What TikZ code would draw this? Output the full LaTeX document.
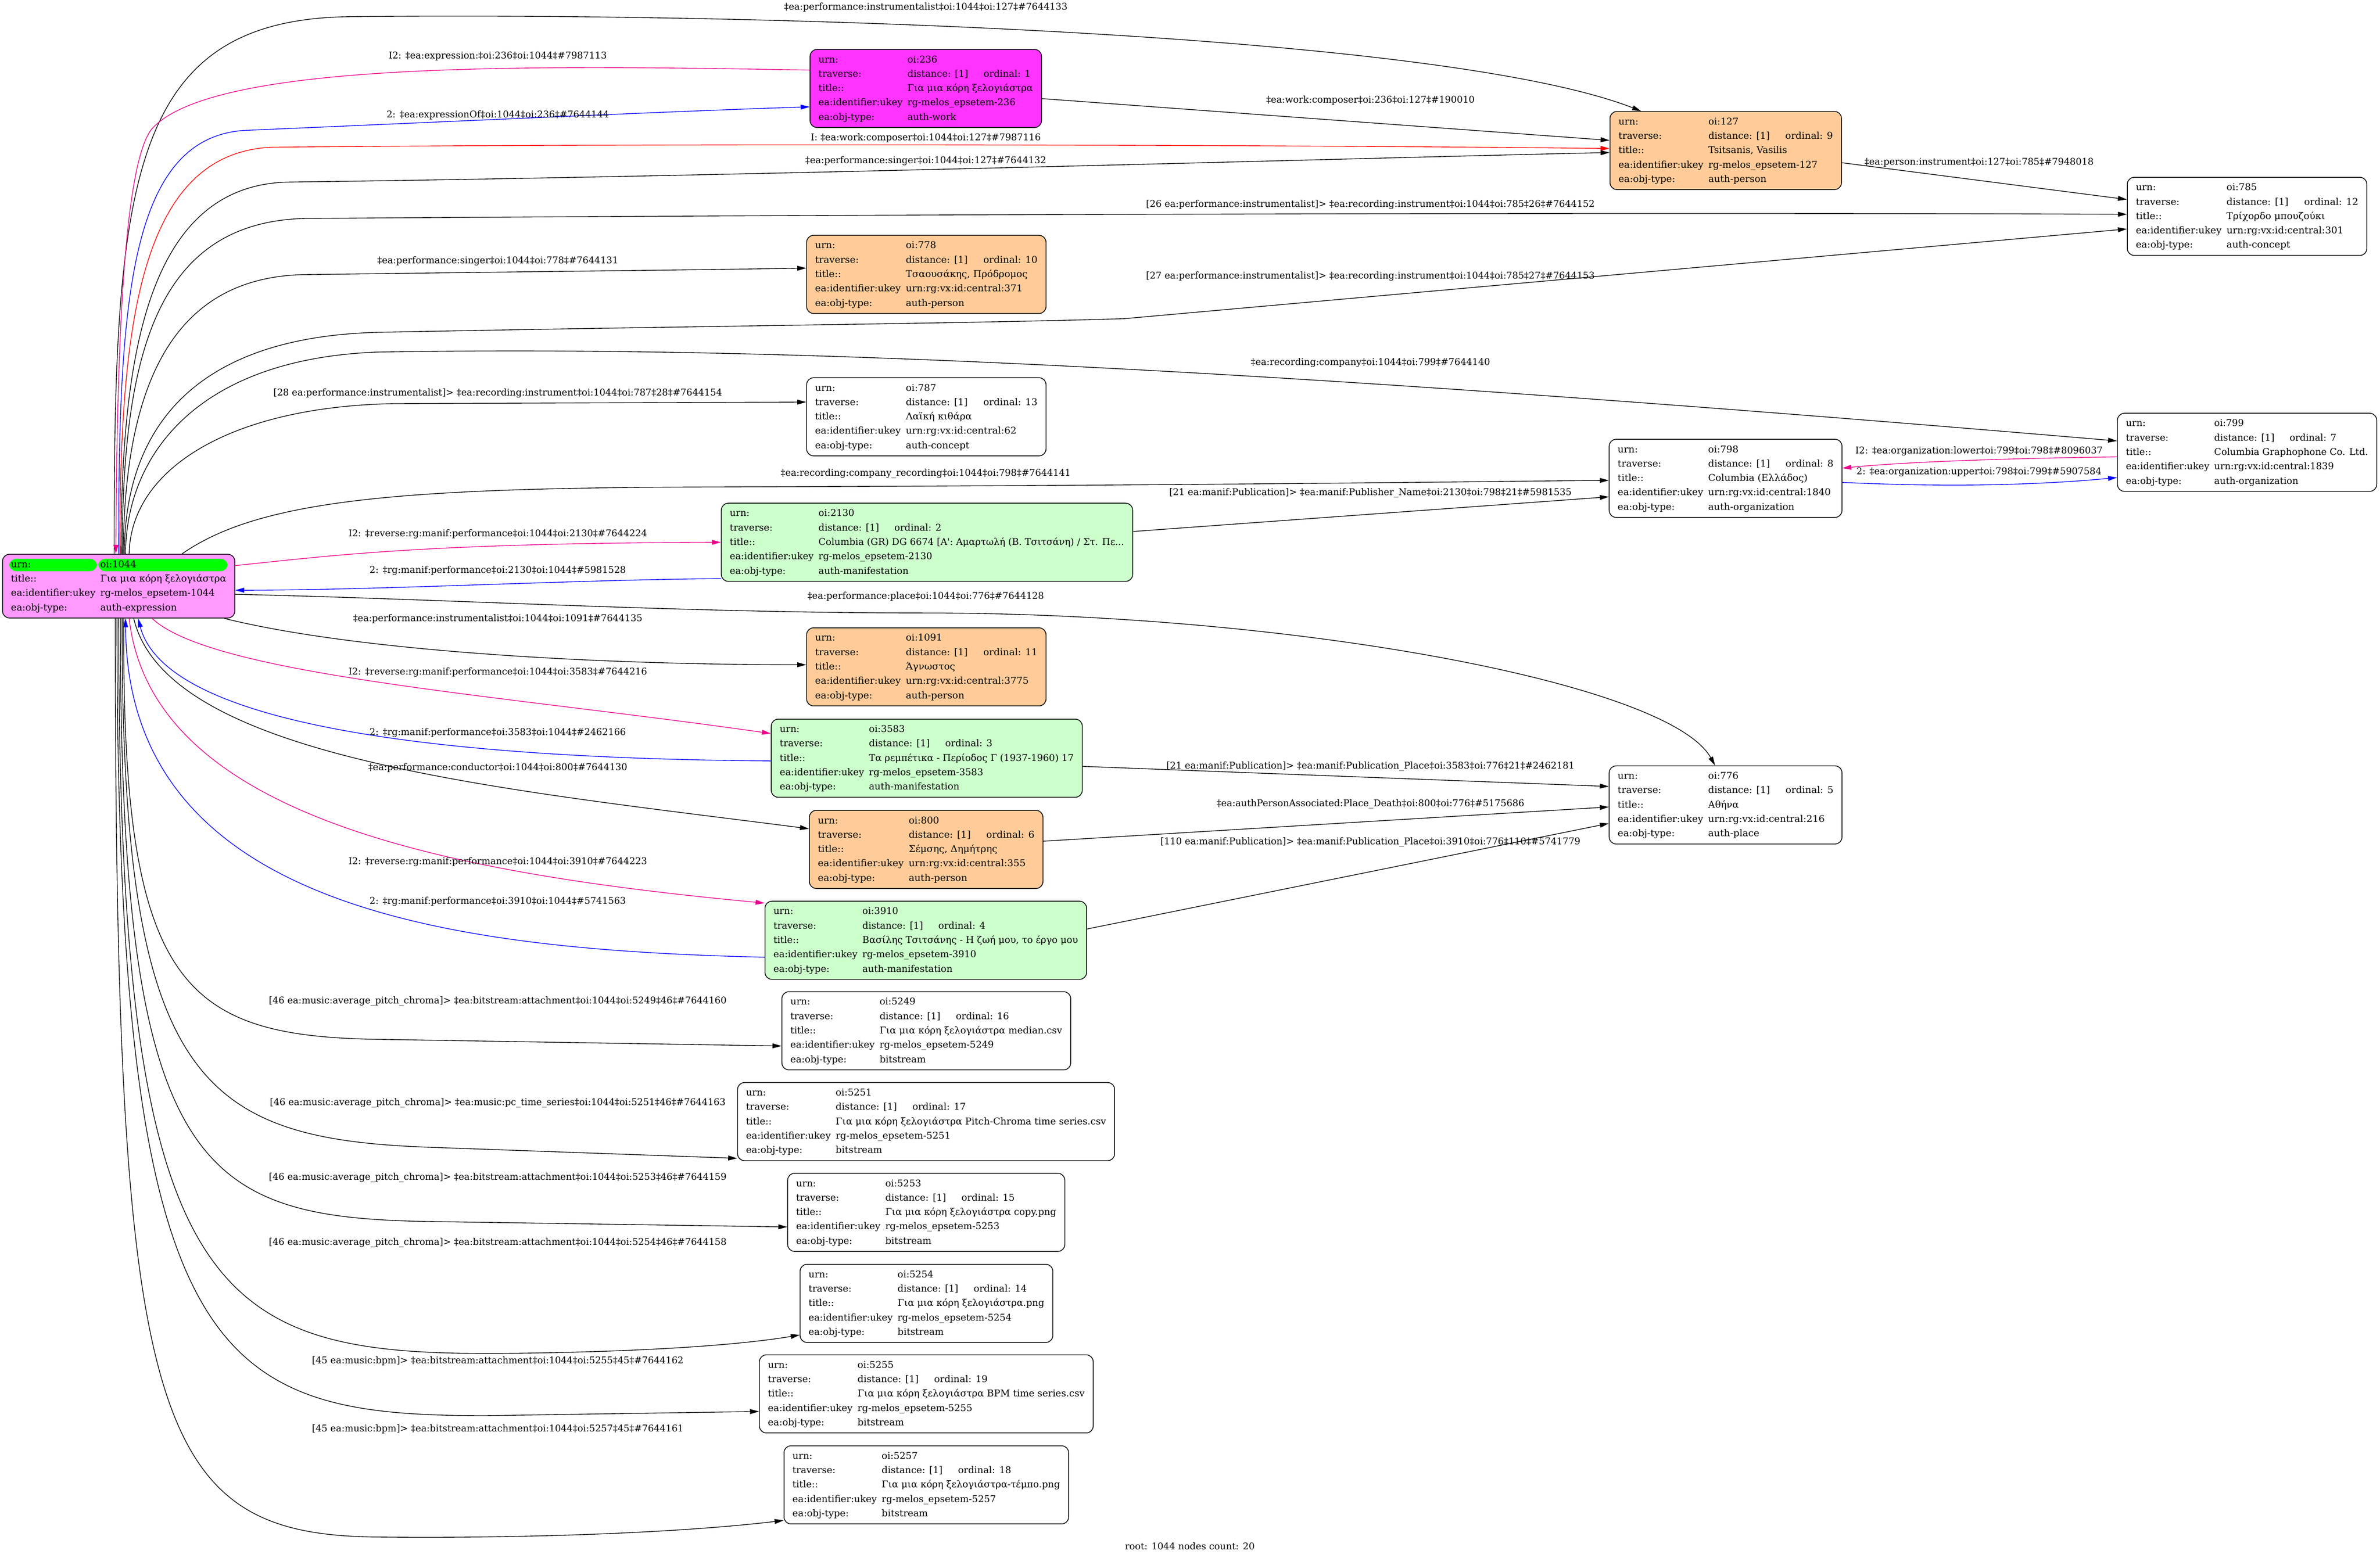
\documentclass[tikz,border=0pt]{standalone}
\usepackage{fontspec}
\setmainfont{DejaVu Serif}
\usepackage{graphicx}
\usetikzlibrary{arrows.meta}
\definecolor{rosefonce}{HTML}{FF33FF}
\definecolor{roseclair}{HTML}{FF99FF}
\definecolor{peche}{HTML}{FFCC99}
\definecolor{vertclair}{HTML}{CCFFCC}
\definecolor{vertvif}{HTML}{00FF00}
\newcommand{\fiche}[6]{\resizebox{#1}{\height}{\begin{tabular}{@{}l@{\hspace{7pt}}l@{}}urn: & oi:#2\\ traverse: & distance: [1]\hspace{22pt}ordinal: #3\\ title:: & #4\\ ea:identifier:ukey & #5\\ ea:obj-type: & #6\end{tabular}}}

\begin{document}
\begin{tikzpicture}[x=2.195pt,y=-2.195pt]
\tikzset{fiche/.style={draw, rounded corners=10pt, line width=1.1pt, inner xsep=12.3pt, inner ysep=4.5pt, font=\fontsize{13.5}{20.8}\selectfont},
  etiq/.style={inner sep=0pt, font=\fontsize{13.5}{16}\selectfont},
  fleche/.style={-{Triangle[length=13pt,width=7pt]}, line width=1pt}}
\useasboundingbox (0,0) rectangle (1568.2,1026.8);
\node[fiche, fill=roseclair, path picture={
  \fill[vertvif] ([xshift=9.7pt,yshift=-6.6pt]path picture bounding box.north west) rectangle ++(126.9pt,-17.8pt);
  \fill[vertvif] ([xshift=138.5pt,yshift=-6.6pt]path picture bounding box.north west) rectangle ++(187pt,-17.8pt);}]
  (n1044) at (78.2,386.3) {\resizebox{311.3pt}{\height}{\begin{tabular}{@{}l@{\hspace{7pt}}l@{}}urn: & oi:1044\\ title:: & Για μια κόρη ξελογιάστρα\\ ea:identifier:ukey & rg-melos\_epsetem-1044\\ ea:obj-type: & auth-expression\end{tabular}}};
\node[fiche, fill=rosefonce] (n236) at (610,58.3) {\fiche{310.2pt}{236}{1}{Για μια κόρη ξελογιάστρα}{rg-melos\_epsetem-236}{auth-work}};
\node[fiche, fill=peche] (n127) at (1137.1,99.2) {\fiche{310.2pt}{127}{9}{Tsitsanis, Vasilis}{rg-melos\_epsetem-127}{auth-person}};
\node[fiche] (n785) at (1480.6,142.6) {\fiche{321.8pt}{785}{12}{Τρίχορδο μπουζούκι}{urn:rg:vx:id:central:301}{auth-concept}};
\node[fiche, fill=peche] (n778) at (610.35,180.85) {\fiche{321.6pt}{778}{10}{Τσαουσάκης, Πρόδρομος}{urn:rg:vx:id:central:371}{auth-person}};
\node[fiche] (n787) at (610.35,274.7) {\fiche{321.6pt}{787}{13}{Λαϊκή κιθάρα}{urn:rg:vx:id:central:62}{auth-concept}};
\node[fiche] (n799) at (1480.6,298.1) {\fiche{350.3pt}{799}{7}{Columbia Graphophone Co. Ltd.}{urn:rg:vx:id:central:1839}{auth-organization}};
\node[fiche] (n798) at (1137,315.25) {\fiche{312.1pt}{798}{8}{Columbia (Ελλάδος)}{urn:rg:vx:id:central:1840}{auth-organization}};
\node[fiche, fill=vertclair] (n2130) at (610.8,357.4) {\fiche{570.3pt}{2130}{2}{Columbia (GR) DG 6674 [Α\textquotesingle: Αμαρτωλή (Β. Τσιτσάνη) / Στ. Πε...}{rg-melos\_epsetem-2130}{auth-manifestation}};
\node[fiche, fill=peche] (n1091) at (610.35,439.5) {\fiche{321.6pt}{1091}{11}{Άγνωστος}{urn:rg:vx:id:central:3775}{auth-person}};
\node[fiche, fill=vertclair] (n3583) at (610.65,499.7) {\fiche{425.2pt}{3583}{3}{Τα ρεμπέτικα - Περίοδος Γ (1937-1960) 17}{rg-melos\_epsetem-3583}{auth-manifestation}};
\node[fiche] (n776) at (1137,530.5) {\fiche{312.1pt}{776}{5}{Αθήνα}{urn:rg:vx:id:central:216}{auth-place}};
\node[fiche, fill=peche] (n800) at (610.25,559.8) {\fiche{313.2pt}{800}{6}{Σέμσης, Δημήτρης}{urn:rg:vx:id:central:355}{auth-person}};
\node[fiche, fill=vertclair] (n3910) at (610,619.7) {\fiche{440.5pt}{3910}{4}{Βασίλης Τσιτσάνης - Η ζωή μου, το έργο μου}{rg-melos\_epsetem-3910}{auth-manifestation}};
\node[fiche] (n5249) at (610.35,679.35) {\fiche{393.1pt}{5249}{16}{Για μια κόρη ξελογιάστρα median.csv}{rg-melos\_epsetem-5249}{bitstream}};
\node[fiche] (n5251) at (610.2,739.2) {\fiche{520.7pt}{5251}{17}{Για μια κόρη ξελογιάστρα Pitch-Chroma time series.csv}{rg-melos\_epsetem-5251}{bitstream}};
\node[fiche] (n5253) at (610.3,799) {\fiche{376.2pt}{5253}{15}{Για μια κόρη ξελογιάστρα copy.png}{rg-melos\_epsetem-5253}{bitstream}};
\node[fiche] (n5254) at (610.45,859) {\fiche{340.9pt}{5254}{14}{Για μια κόρη ξελογιάστρα.png}{rg-melos\_epsetem-5254}{bitstream}};
\node[fiche] (n5255) at (610.35,918.65) {\fiche{458.1pt}{5255}{19}{Για μια κόρη ξελογιάστρα BPM time series.csv}{rg-melos\_epsetem-5255}{bitstream}};
\node[fiche] (n5257) at (610.35,978.6) {\fiche{387pt}{5257}{18}{Για μια κόρη ξελογιάστρα-τέμπο.png}{rg-melos\_epsetem-5257}{bitstream}};
% edges towards the upper nodes
\draw[fleche] (n1044.98) .. controls (75,120) and (85,13) .. (230,11) .. controls (500,8) and (950,22) .. (n127.155);
\draw[fleche, magenta] (n236.171) .. controls (350,43) and (140,40) .. (100,85) .. controls (80,110) and (77,250) .. (n1044.95);
\draw[fleche, blue] (n1044.90) .. controls (78,200) and (85,92) .. (160,86) .. controls (300,80) and (450,73) .. (n236.189);
\draw[fleche] (n236.-5) -- (n127.175);
\draw[fleche, red] (n1044.88) .. controls (79,220) and (90,100) .. (180,97) .. controls (500,94) and (900,96) .. (n127.179);
\draw[fleche] (n1044.86) .. controls (80,240) and (95,122) .. (190,120) .. controls (500,116) and (900,104) .. (n127.181);
\draw[fleche] (n127.-6) -- (n785.172);
\draw[fleche] (n1044.84) .. controls (81,240) and (100,147) .. (200,144) .. controls (600,141) and (1100,140) .. (n785.179);
\draw[fleche] (n1044.82) .. controls (82,260) and (110,183) .. (200,181) .. controls (350,179) and (450,178) .. (n778.177);
\draw[fleche] (n1044.80) .. controls (82,290) and (120,222) .. (250,219) .. controls (450,215) and (650,213) .. (741,210) -- (n785.186);
\draw[fleche] (n1044.78) .. controls (83,300) and (130,236) .. (250,232) .. controls (500,228) and (800,240) .. (n799.175);
\draw[fleche] (n1044.72) .. controls (86,310) and (150,268) .. (260,266) -- (n787.173);
\draw[fleche] (n1044.27) .. controls (170,330) and (260,322) .. (450,321) .. controls (800,320) and (1000,317) .. (n798.181);
\draw[fleche] (n2130.3) -- (n798.189);
\draw[fleche, magenta] (n799.182) .. controls (1330,302) and (1260,304) .. (n798.5);
\draw[fleche, blue] (n798.-2) .. controls (1280,321) and (1340,320) .. (n799.191);
\draw[fleche, magenta] (n1044.10) .. controls (220,366) and (280,358) .. (n2130.180);
\draw[fleche, blue] (n2130.190) .. controls (380,382) and (250,389) .. (n1044.-2);
\draw[fleche] (n1044.-4) .. controls (300,395) and (450,404) .. (610,404) .. controls (850,404) and (1100,450) .. (n776.105);
% edges towards the lower nodes
\draw[fleche] (n1044.-17) .. controls (230,428) and (380,438) .. (n1091.179);
\draw[fleche, magenta] (n1044.-44) .. controls (140,445) and (330,458) .. (n3583.171);
\draw[fleche, blue] (n3583.181) .. controls (300,500) and (110,480) .. (n1044.-59);
\draw[fleche] (n3583.-3) -- (n776.171);
\draw[fleche] (n1044.-65) .. controls (110,500) and (330,520) .. (n800.170);
\draw[fleche] (n800.4) -- (n776.181);
\draw[fleche] (n3910.4.5) -- (n776.189);
\draw[fleche, magenta] (n1044.-72) .. controls (100,540) and (300,576) .. (n3910.167);
\draw[fleche, blue] (n3910.186) .. controls (300,626) and (84,600) .. (n1044.-78);
\draw[fleche] (n1044.-81) .. controls (80,650) and (120,683) .. (250,685) -- (n5249.186);
\draw[fleche] (n1044.-84) .. controls (80,710) and (130,750) .. (280,756) -- (n5251.191);
\draw[fleche] (n1044.-87) .. controls (79,770) and (130,802) .. (280,805) -- (n5253.186);
\draw[fleche] (n1044.-90) .. controls (78,860) and (140,893) .. (330,892) .. controls (430,891) and (490,886) .. (n5254.194);
\draw[fleche] (n1044.-93) .. controls (77,900) and (140,933) .. (320,933) -- (n5255.186);
\draw[fleche] (n1044.-96) .. controls (76,940) and (100,1012) .. (250,1013) .. controls (350,1014) and (450,1010) .. (n5257.194);
% labels
\node[etiq] (L1) at (610,5) {‡ea:performance:instrumentalist‡oi:1044‡oi:127‡\#7644133};
\node[etiq] (L2) at (328,37) {I2: ‡ea:expression:‡oi:236‡oi:1044‡\#7987113};
\node[etiq] (L3) at (328,76) {2: ‡ea:expressionOf‡oi:1044‡oi:236‡\#7644144};
\node[etiq] (L4) at (903,66) {‡ea:work:composer‡oi:236‡oi:127‡\#190010};
\node[etiq] (L5) at (610,91) {I: ‡ea:work:composer‡oi:1044‡oi:127‡\#7987116};
\node[etiq] (L6) at (610,106) {‡ea:performance:singer‡oi:1044‡oi:127‡\#7644132};
\node[etiq] (L7) at (1304,107) {‡ea:person:instrument‡oi:127‡oi:785‡\#7948018};
\node[etiq] (L8) at (903,135) {[26 ea:performance:instrumentalist]> ‡ea:recording:instrument‡oi:1044‡oi:785‡26‡\#7644152};
\node[etiq] (L9) at (328,172) {‡ea:performance:singer‡oi:1044‡oi:778‡\#7644131};
\node[etiq] (L10) at (903,182) {[27 ea:performance:instrumentalist]> ‡ea:recording:instrument‡oi:1044‡oi:785‡27‡\#7644153};
\node[etiq] (L11) at (328,259) {[28 ea:performance:instrumentalist]> ‡ea:recording:instrument‡oi:1044‡oi:787‡28‡\#7644154};
\node[etiq] (L12) at (903,239) {‡ea:recording:company‡oi:1044‡oi:799‡\#7644140};
\node[etiq] (L13) at (610,312) {‡ea:recording:company\_recording‡oi:1044‡oi:798‡\#7644141};
\node[etiq] (L14) at (903,325) {[21 ea:manif:Publication]> ‡ea:manif:Publisher\_Name‡oi:2130‡oi:798‡21‡\#5981535};
\node[etiq] (L15) at (1304,297.5) {I2: ‡ea:organization:lower‡oi:799‡oi:798‡\#8096037};
\node[etiq] (L16) at (1304,311.3) {2: ‡ea:organization:upper‡oi:798‡oi:799‡\#5907584};
\node[etiq] (L17) at (328,352) {I2: ‡reverse:rg:manif:performance‡oi:1044‡oi:2130‡\#7644224};
\node[etiq] (L18) at (328,376) {2: ‡rg:manif:performance‡oi:2130‡oi:1044‡\#5981528};
\node[etiq] (L19) at (610,393) {‡ea:performance:place‡oi:1044‡oi:776‡\#7644128};
\node[etiq] (L20) at (328,408) {‡ea:performance:instrumentalist‡oi:1044‡oi:1091‡\#7644135};
\node[etiq] (L21) at (328,443) {I2: ‡reverse:rg:manif:performance‡oi:1044‡oi:3583‡\#7644216};
\node[etiq] (L22) at (328,483) {2: ‡rg:manif:performance‡oi:3583‡oi:1044‡\#2462166};
\node[etiq] (L23) at (903,505) {[21 ea:manif:Publication]> ‡ea:manif:Publication\_Place‡oi:3583‡oi:776‡21‡\#2462181};
\node[etiq] (L24) at (328,506) {‡ea:performance:conductor‡oi:1044‡oi:800‡\#7644130};
\node[etiq] (L25) at (903,530) {‡ea:authPersonAssociated:Place\_Death‡oi:800‡oi:776‡\#5175686};
\node[etiq] (L26) at (903,555) {[110 ea:manif:Publication]> ‡ea:manif:Publication\_Place‡oi:3910‡oi:776‡110‡\#5741779};
\node[etiq] (L27) at (328,568) {I2: ‡reverse:rg:manif:performance‡oi:1044‡oi:3910‡\#7644223};
\node[etiq] (L28) at (328,594) {2: ‡rg:manif:performance‡oi:3910‡oi:1044‡\#5741563};
\node[etiq] (L29) at (328,660) {[46 ea:music:average\_pitch\_chroma]> ‡ea:bitstream:attachment‡oi:1044‡oi:5249‡46‡\#7644160};
\node[etiq] (L30) at (328,727) {[46 ea:music:average\_pitch\_chroma]> ‡ea:music:pc\_time\_series‡oi:1044‡oi:5251‡46‡\#7644163};
\node[etiq] (L31) at (328,776) {[46 ea:music:average\_pitch\_chroma]> ‡ea:bitstream:attachment‡oi:1044‡oi:5253‡46‡\#7644159};
\node[etiq] (L32) at (328,819) {[46 ea:music:average\_pitch\_chroma]> ‡ea:bitstream:attachment‡oi:1044‡oi:5254‡46‡\#7644158};
\node[etiq] (L33) at (328,897) {[45 ea:music:bpm]> ‡ea:bitstream:attachment‡oi:1044‡oi:5255‡45‡\#7644162};
\node[etiq] (L34) at (328,942) {[45 ea:music:bpm]> ‡ea:bitstream:attachment‡oi:1044‡oi:5257‡45‡\#7644161};
\node[etiq] (legende) at (784,1019) {root: 1044 nodes count: 20};
\end{tikzpicture}
\end{document}
